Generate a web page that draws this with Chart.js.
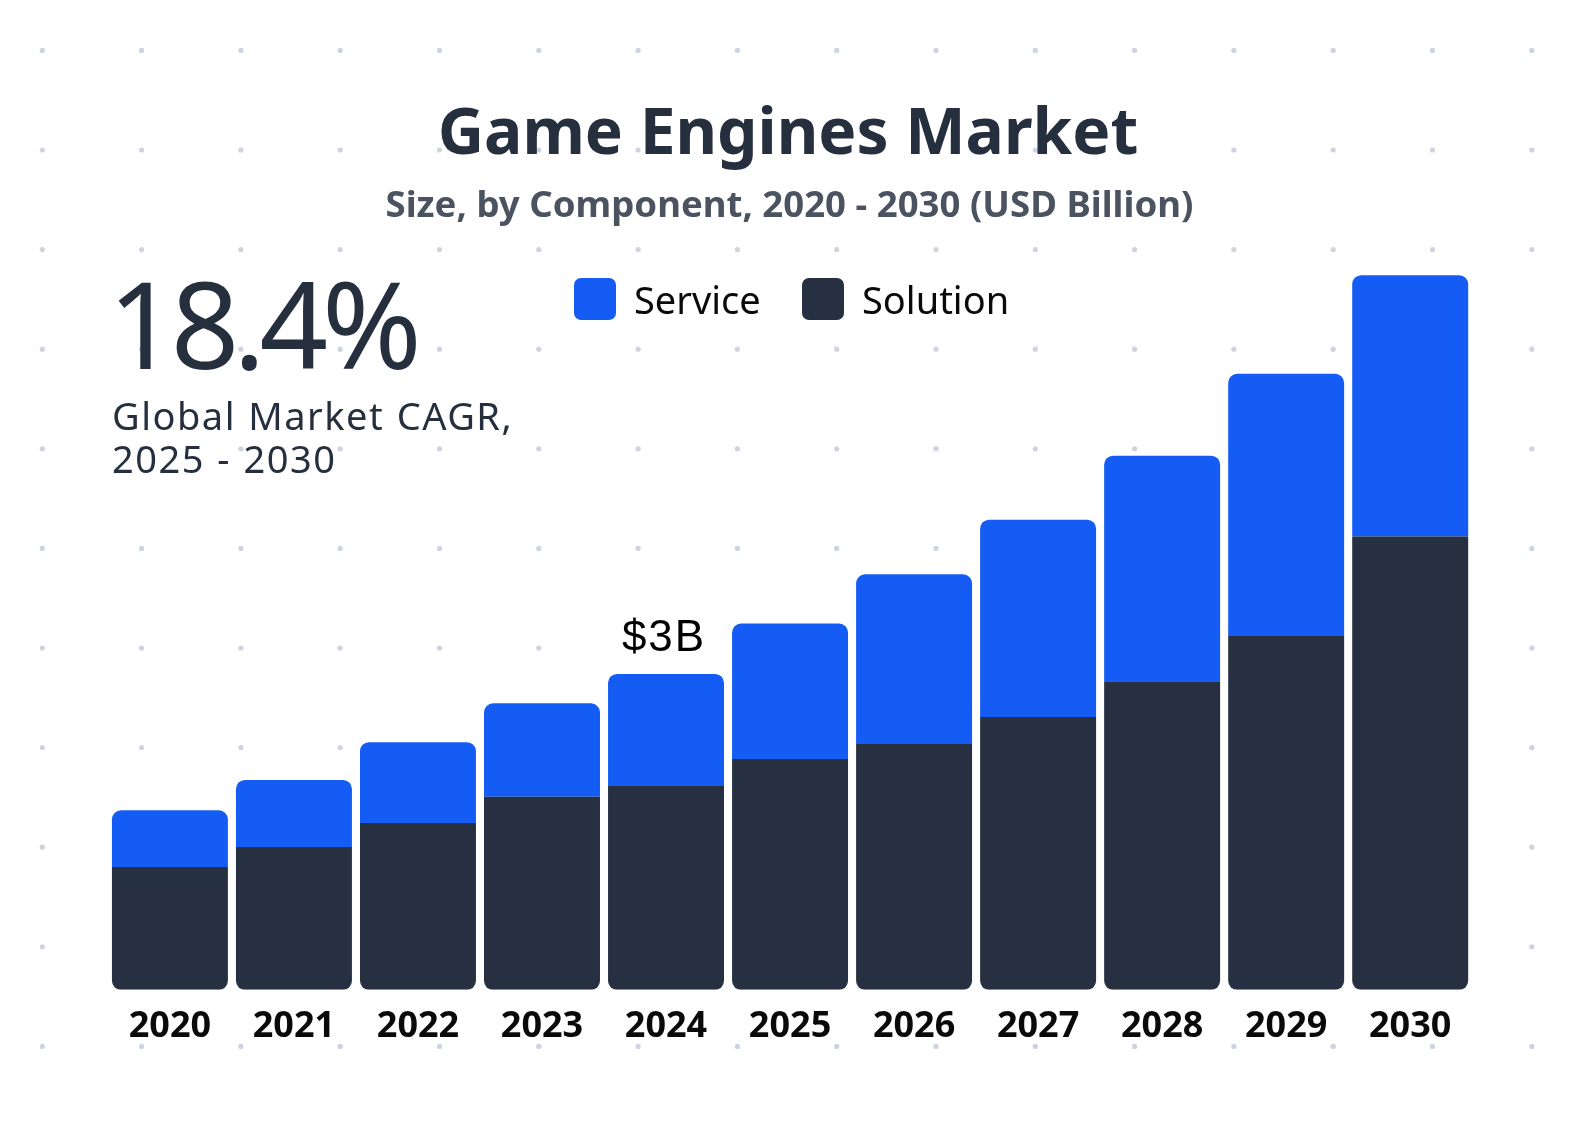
<!DOCTYPE html>
<html>
<head>
<meta charset="utf-8">
<title>Game Engines Market</title>
<script src="https://cdn.jsdelivr.net/npm/chart.js@4.4.1/dist/chart.umd.min.js"></script>
<style>
    html, body {
        margin: 0;
        padding: 0;
        background: #ffffff;
    }
    #wrap {
        position: relative;
        width: 1580px;
        height: 1134px;
        overflow: hidden;
        font-family: 'Noto Sans', sans-serif;
    }
    #chart {
        position: absolute;
        left: 0;
        top: 0;
    }
    .txt {
        position: absolute;
        line-height: 1;
        white-space: nowrap;
    }
    #title {
        left: 0;
        width: 1576px;
        text-align: center;
        top: 98px;
        font-size: 64px;
        font-weight: 700;
        color: #262f3e;
    }
    #subtitle {
        left: 0;
        width: 1579px;
        text-align: center;
        top: 185px;
        font-size: 36.6px;
        font-weight: 700;
        color: #4b5361;
    }
    #cagr {
        left: 108px;
        top: 263px;
        font-size: 120px;
        font-weight: 400;
        letter-spacing: -6px;
        color: #262f3e;
    }
    #cagrText {
        left: 112px;
        top: 394px;
        font-size: 38px;
        letter-spacing: 1.5px;
        word-spacing: 1px;
        line-height: 43.3px;
        color: #262f3e;
    }
    .legend-box {
        position: absolute;
        width: 42px;
        height: 42px;
        border-radius: 7px;
        top: 278px;
    }
    .legend-label {
        top: 280px;
        font-size: 38px;
        color: #0a0a0a;
    }
</style>
</head>
<body>
<div id="wrap">
    <canvas id="chart" width="1580" height="1134"></canvas>
    <div class="txt" id="title"></div>
    <div class="txt" id="subtitle"></div>
    <div class="txt" id="cagr"></div>
    <div class="txt" id="cagrText"></div>
    <div id="legend"></div>
</div>
<script>
// values (USD billion)
const YEARS = ['2020', '2021', '2022', '2023', '2024', '2025', '2026', '2027', '2028', '2029', '2030'];
const SOLUTION = [1.17, 1.36, 1.59, 1.84, 1.95, 2.20, 2.35, 2.60, 2.94, 3.38, 4.32];
const SERVICE = [0.54, 0.64, 0.77, 0.89, 1.06, 1.29, 1.61, 1.88, 2.15, 2.49, 2.49];
const SERIES_NAMES = ['Service', 'Solution'];
const Y_MAX = 7;

const TITLE = 'Game Engines Market';
const SUBTITLE = 'Size, by Component, 2020 - 2030 (USD Billion)';
const CAGR = '18.4%';
const CAGR_TEXT = ['Global Market CAGR,', '2025 - 2030'];
const CALLOUT_YEAR = '2024';
const CALLOUT_TEXT = '$3B';

const BLUE = '#155cf5';
const DARK = '#263040';
const DOT = '#cdd3df';

document.getElementById('title').textContent = TITLE;
document.getElementById('subtitle').textContent = SUBTITLE;
document.getElementById('cagr').textContent = CAGR;
document.getElementById('cagrText').innerHTML = CAGR_TEXT.join('<br>');

// legend
const legend = document.getElementById('legend');
const legendPos = [{box: 574, text: 634, color: BLUE}, {box: 802, text: 862, color: DARK}];
SERIES_NAMES.forEach((name, i) => {
    const b = document.createElement('div');
    b.className = 'legend-box';
    b.style.left = legendPos[i].box + 'px';
    b.style.background = legendPos[i].color;
    legend.appendChild(b);
    const t = document.createElement('div');
    t.className = 'txt legend-label';
    t.style.left = legendPos[i].text + 'px';
    t.textContent = name;
    legend.appendChild(t);
});

// dotted background
const dotGrid = {
    id: 'dotGrid',
    beforeDraw(chart) {
        const ctx = chart.ctx;
        ctx.save();
        ctx.fillStyle = '#ffffff';
        ctx.fillRect(0, 0, chart.width, chart.height);
        ctx.fillStyle = DOT;
        for (let i = 0; i < 16; i++) {
            for (let j = 0; j < 11; j++) {
                ctx.beginPath();
                ctx.arc(42.3 + 99.3 * i, 50.4 + 99.6 * j, 2.6, 0, Math.PI * 2);
                ctx.fill();
            }
        }
        ctx.restore();
    }
};

// "$3B" callout above the 2024 bar
const callout = {
    id: 'callout',
    afterDatasetsDraw(chart) {
        const idx = YEARS.indexOf(CALLOUT_YEAR);
        const x = chart.scales.x.getPixelForValue(idx);
        const y = chart.scales.y.getPixelForValue(SOLUTION[idx] + SERVICE[idx]);
        const ctx = chart.ctx;
        ctx.save();
        ctx.font = '44px "Liberation Sans", Arial, sans-serif';
        ctx.letterSpacing = '2px';
        ctx.fillStyle = '#000000';
        ctx.textAlign = 'center';
        ctx.textBaseline = 'alphabetic';
        ctx.fillText(CALLOUT_TEXT, x - 2, y - 23);
        ctx.restore();
    }
};

new Chart(document.getElementById('chart'), {
    type: 'bar',
    data: {
        labels: YEARS,
        datasets: [{
            label: SERIES_NAMES[1],
            data: SOLUTION,
            backgroundColor: DARK,
            borderSkipped: false,
            borderRadius: {topLeft: 0, topRight: 0, bottomLeft: 9, bottomRight: 9}
        }, {
            label: SERIES_NAMES[0],
            data: SERVICE,
            backgroundColor: BLUE,
            borderSkipped: false,
            borderRadius: {topLeft: 9, topRight: 9, bottomLeft: 0, bottomRight: 0}
        }]
    },
    options: {
        responsive: false,
        animation: false,
        barPercentage: 1,
        categoryPercentage: 0.935,
        layout: {
            padding: {left: 107.9, right: 107.8, top: 255.3, bottom: 71}
        },
        plugins: {
            legend: {display: false},
            title: {display: false},
            tooltip: {enabled: false}
        },
        scales: {
            x: {
                stacked: true,
                border: {display: false},
                grid: {display: false, drawTicks: false},
                ticks: {
                    color: '#0a0a0a',
                    padding: 15,
                    font: {family: 'Noto Sans', size: 36, weight: 'bold'}
                }
            },
            y: {
                stacked: true,
                display: false,
                min: 0,
                max: Y_MAX
            }
        }
    },
    plugins: [dotGrid, callout]
});
</script>
</body>
</html>
